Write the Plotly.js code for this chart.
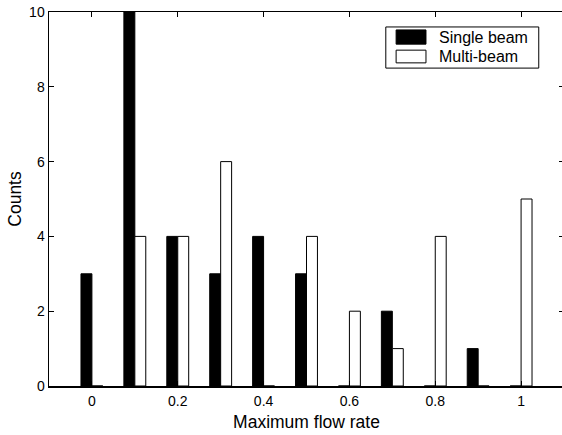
<!DOCTYPE html>
<html>
<head>
<meta charset="utf-8">
<script src="https://cdn.plot.ly/plotly-3.0.1.min.js"></script>
<style>html,body{margin:0;padding:0;overflow:hidden;background:#fff;}</style>
</head>
<body>
<div id="chart" style="width:564px;height:435px;"></div>
<script>
var flowRate = [0, 0.1, 0.2, 0.3, 0.4, 0.5, 0.6, 0.7, 0.8, 0.9, 1.0];
var singleBeam = [3, 10, 4, 3, 4, 3, 0, 2, 0, 1, 0];
var multiBeam = [0, 4, 4, 6, 0, 4, 2, 1, 4, 0, 5];
var xTicks = [0, 0.2, 0.4, 0.6, 0.8, 1];
var xTickText = ['0', '0.2', '0.4', '0.6', '0.8', '1'];
var yTicks = [0, 2, 4, 6, 8, 10];
var seriesNames = ['Single beam', 'Multi-beam'];
var seriesFill = ['#000000', '#ffffff'];

var FONT = 'Liberation Sans, Arial, Helvetica, sans-serif';
var traces = [
  {type: 'bar', name: seriesNames[0], x: flowRate, y: singleBeam, showlegend: false,
   marker: {color: seriesFill[0], line: {color: '#000000', width: 1}}},
  {type: 'bar', name: seriesNames[1], x: flowRate, y: multiBeam, showlegend: false,
   marker: {color: seriesFill[1], line: {color: '#000000', width: 1}}}
];

// legend drawn as a box (paper coordinates)
var shapes = [
  {type: 'rect', xref: 'paper', yref: 'paper', x0: 0.654, x1: 0.951, y0: 0.850, y1: 0.960,
   line: {color: '#000', width: 1}, fillcolor: '#fff'},
  {type: 'rect', xref: 'paper', yref: 'paper', x0: 0.674, x1: 0.732, y0: 0.914, y1: 0.952,
   line: {color: '#000', width: 1}, fillcolor: seriesFill[0]},
  {type: 'rect', xref: 'paper', yref: 'paper', x0: 0.674, x1: 0.732, y0: 0.864, y1: 0.898,
   line: {color: '#000', width: 1}, fillcolor: seriesFill[1]}
];
var annotations = [
  {xref: 'paper', yref: 'paper', x: 0.753, y: 0.933, xanchor: 'left', yanchor: 'middle',
   text: seriesNames[0], showarrow: false, font: {family: FONT, size: 16, color: '#000'}},
  {xref: 'paper', yref: 'paper', x: 0.753, y: 0.882, xanchor: 'left', yanchor: 'middle',
   text: seriesNames[1], showarrow: false, font: {family: FONT, size: 16, color: '#000'}}
];

var tickFont = {family: FONT, size: 14, color: '#000'};
var titleFont = {family: FONT, size: 17.5, color: '#000'};
var layout = {
  width: 564, height: 435,
  margin: {l: 49, r: 0, t: 12, b: 49},
  paper_bgcolor: '#fff', plot_bgcolor: '#fff',
  barmode: 'group', bargap: 0.49, bargroupgap: 0,
  font: tickFont,
  showlegend: false,
  shapes: shapes,
  annotations: annotations,
  xaxis: {range: [-0.1, 1.1], tickvals: xTicks, ticktext: xTickText,
    ticks: 'inside', ticklen: 5, tickcolor: '#000', tickwidth: 1,
    showline: true, linecolor: '#000', linewidth: 1.5, mirror: 'ticks',
    showgrid: false, zeroline: false, tickfont: tickFont, ticklabelstandoff: 2,
    title: {text: 'Maximum flow rate', font: titleFont, standoff: 7}},
  yaxis: {range: [0, 10], tickvals: yTicks,
    ticks: 'inside', ticklen: 5, tickcolor: '#000', tickwidth: 1,
    showline: true, linecolor: '#000', linewidth: 1.5, mirror: 'ticks',
    showgrid: false, zeroline: false, tickfont: tickFont,
    title: {text: 'Counts', font: titleFont, standoff: 3}}
};
Plotly.newPlot('chart', traces, layout, {displayModeBar: false, staticPlot: true});
</script>
</body>
</html>
